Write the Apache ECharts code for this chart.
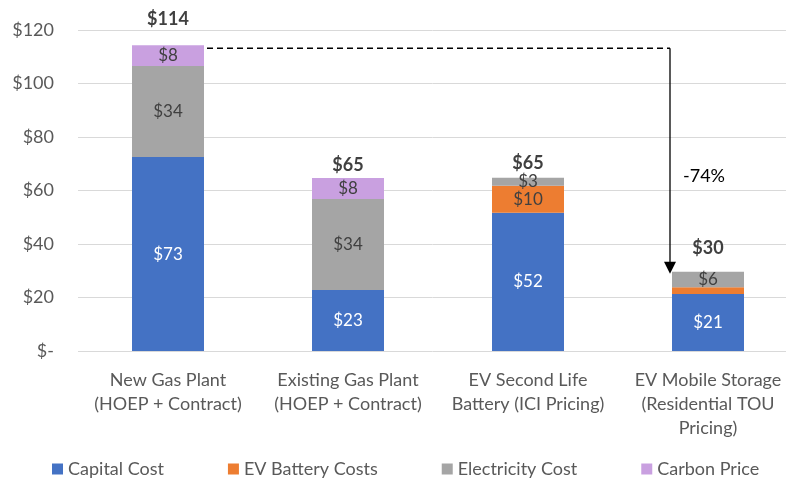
<!DOCTYPE html>
<html>
<head>
<meta charset="utf-8">
<script src="https://cdn.jsdelivr.net/npm/echarts@6/dist/echarts.min.js"></script>
<style>
html,body{margin:0;padding:0;background:#fff;}
#c{width:786px;height:480px;}
</style>
</head>
<body>
<div id="c"></div>
<script>
var categories = ['New Gas Plant\n(HOEP + Contract)', 'Existing Gas Plant\n(HOEP + Contract)', 'EV Second Life\nBattery (ICI Pricing)', 'EV Mobile Storage\n(Residential TOU\nPricing)'];
var seriesNames = ['Capital Cost', 'EV Battery Costs', 'Electricity Cost', 'Carbon Price'];
var capitalCost = [72.5, 22.8, 51.7, 21.3];
var evBatteryCosts = [0, 0, 10.1, 2.5];
var electricityCost = [34.0, 34.0, 3.0, 5.8];
var carbonPrice = [7.8, 7.9, 0, 0];
var yTicks = [0, 20, 40, 60, 80, 100, 120];
var changeLabel = '-74%';

var colors = ['#4472C4', '#ED7D31', '#A5A5A5', '#C9A0E0'];
var FONT = 'Lato';
var totals = capitalCost.map(function (v, i) {
  return v + evBatteryCosts[i] + electricityCost[i] + carbonPrice[i];
});
var totalDist = [17, 4, 5, 15];

function seg(name, data, idx, labelColor) {
  return {
    name: name, type: 'bar', stack: 'cost', data: data, barWidth: '40%',
    itemStyle: { color: colors[idx] },
    label: {
      show: true, position: 'inside', color: labelColor, fontFamily: FONT, fontSize: 17,
      formatter: function (p) { return p.value >= 3 ? '$' + Math.round(p.value) : ''; }
    },
    emphasis: { disabled: true }
  };
}

var chart = echarts.init(document.getElementById('c'));
chart.setOption({
  animation: false,
  textStyle: { fontFamily: FONT },
  grid: { left: 78, top: 30, width: 720, height: 321, containLabel: false, outerBoundsMode: 'none' },
  legend: {
    data: seriesNames, top: 455, left: 47, itemWidth: 11, itemHeight: 11, itemGap: 64,
    icon: 'rect', textStyle: { fontFamily: FONT, fontSize: 18, color: '#595959' }
  },
  xAxis: {
    type: 'category', data: categories,
    axisLine: { show: false }, axisTick: { show: false },
    axisLabel: { interval: 0, margin: 17, fontFamily: FONT, fontSize: 18, color: '#595959', lineHeight: 24 }
  },
  yAxis: {
    type: 'value', min: 0, max: 120, interval: 20,
    axisLine: { show: false }, axisTick: { show: false },
    splitLine: { lineStyle: { color: '#D9D9D9', width: 1 } },
    axisLabel: {
      margin: 24, fontFamily: FONT, fontSize: 18, color: '#595959',
      formatter: function (v) { return yTicks.indexOf(v) >= 0 ? (v === 0 ? '$-' : '$' + v) : ''; }
    }
  },
  series: [
    seg(seriesNames[0], capitalCost, 0, '#ffffff'),
    seg(seriesNames[1], evBatteryCosts, 1, '#404040'),
    seg(seriesNames[2], electricityCost, 2, '#404040'),
    seg(seriesNames[3], carbonPrice, 3, '#404040'),
    {
      name: 'Total', type: 'bar', barGap: '-100%', barWidth: '40%',
      data: totals.map(function (v, i) {
        return { value: v, label: { distance: totalDist[i] } };
      }),
      itemStyle: { color: 'rgba(0,0,0,0)' },
      label: {
        show: true, position: 'top', color: '#404040', fontFamily: FONT, fontSize: 18, fontWeight: 'bold',
        formatter: function (p) { return '$' + Math.round(p.value); }
      },
      emphasis: { disabled: true }, silent: true, z: 1
    }
  ]
});

var p0 = chart.convertToPixel({ gridIndex: 0 }, [0, totals[0]]);
var p1 = chart.convertToPixel({ gridIndex: 0 }, [1, totals[0]]);
var p3 = chart.convertToPixel({ gridIndex: 0 }, [3, totals[3]]);
var half = (p1[0] - p0[0]) * 0.4 / 2;
var x1 = p0[0] + half + 3, y1 = p0[1] + 3;
var x2 = p3[0] - half - 2, yTip = p3[1] + 2;
chart.setOption({
  graphic: [
    { type: 'line', shape: { x1: x1, y1: y1, x2: x2, y2: y1 }, style: { stroke: '#000', lineWidth: 1.3, lineDash: [6, 4] } },
    { type: 'line', shape: { x1: x2, y1: y1, x2: x2, y2: yTip - 11 }, style: { stroke: '#000', lineWidth: 1.3 } },
    { type: 'polygon', shape: { points: [[x2 - 6, yTip - 12], [x2 + 6, yTip - 12], [x2, yTip]] }, style: { fill: '#000' } },
    { type: 'text', x: x2 + 13, y: 176, style: { text: changeLabel, fill: '#000', font: '18px Lato', textVerticalAlign: 'middle' } }
  ]
});
</script>
</body>
</html>
